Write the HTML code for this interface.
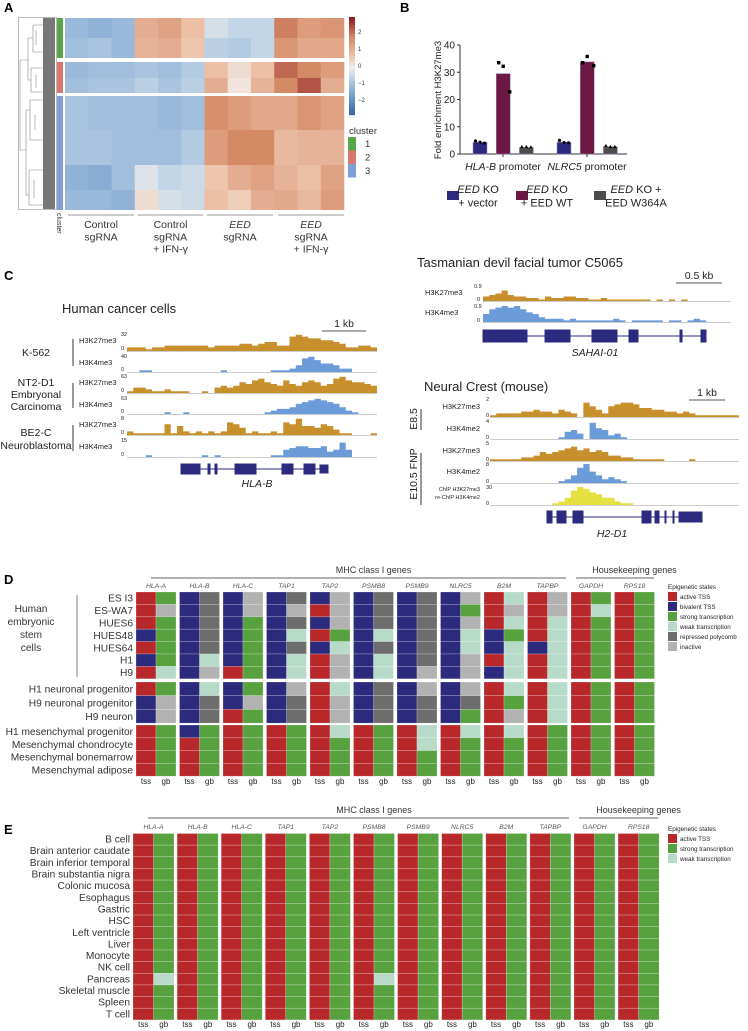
<!DOCTYPE html>
<html><head><meta charset="utf-8"><style>
html,body{margin:0;padding:0;background:#fff}
svg{display:block;font-family:"Liberation Sans",sans-serif}
</style></head><body>
<svg id="fig" width="748" height="1031" viewBox="0 0 748 1031" xmlns="http://www.w3.org/2000/svg">
<g id="gA">
<text x="4" y="12" font-size="13" font-weight="bold">A</text>
<rect x="18.5" y="17.5" width="38" height="192" fill="none" stroke="#aaa" stroke-width="0.8"/>
<text x="349" y="134" font-size="9.5" fill="#333">cluster</text>
<text transform="translate(57,213) rotate(90)" font-size="7" fill="#333">cluster</text>
</g>
<g id="gB">
<text x="400" y="12" font-size="13" font-weight="bold">B</text>
<text transform="translate(441,100) rotate(-90)" text-anchor="middle" font-size="9.5" fill="#222">Fold enrichment H3K27me3</text>
</g>
<g id="gC">
<text x="4" y="280" font-size="13" font-weight="bold">C</text>
<text x="62" y="313" font-size="13" fill="#222">Human cancer cells</text>
<text x="417" y="267" font-size="13" fill="#222">Tasmanian devil facial tumor C5065</text>
<text x="424" y="391" font-size="13" fill="#222">Neural Crest (mouse)</text>
</g>
<g id="gD">
<text x="4" y="584" font-size="13" font-weight="bold">D</text>
</g>
<g id="gE">
<text x="4" y="834" font-size="13" font-weight="bold">E</text>
</g>
</svg>
<script>
// ---------- Panel A data ----------
const bandClusters = [1,1,2,2,3,3,3,3];
const bandY = [[18,38],[38,58],[62,78],[78,93],[96,130],[130,165],[165,190],[190,210]];
const band1 = [-1.0,-1.1,-1.0, 0.9,1.1,0.6, -0.3,-0.5,-0.5, 1.6,1.2,1.3];
const band2 = [-0.9,-0.8,-1.0, 0.8,0.9,0.5, -0.6,-0.7,-0.5, 1.3,1.0,1.0];
const band3 = [-1.0,-0.9,-0.9, -0.8,-0.9,-0.7, 0.6,0.2,0.6, 1.8,1.5,1.2];
const band4 = [-0.9,-0.8,-0.8, -0.6,-0.8,-0.6, 0.9,0.1,0.8, 1.5,2.0,0.9];
const band5 = [-0.8,-0.9,-0.9, -0.9,-1.0,-0.9, 1.4,1.2,1.0, 1.0,1.3,1.1];
const band6 = [-0.8,-0.8,-0.9, -0.9,-0.9,-0.7, 1.2,1.5,1.5, 0.7,0.8,0.8];
const band7 = [-1.1,-1.2,-0.9, -0.2,-0.5,-0.4, 0.5,0.9,1.1, 0.8,0.6,1.1];
const band8 = [-1.0,-1.0,-1.1, 0.2,-0.3,-0.4, 0.6,0.4,0.9, 1.0,0.7,1.2];
const groupLabelsA = [["Control","sgRNA"],["Control","sgRNA","+ IFN-γ"],["EED","sgRNA"],["EED","sgRNA","+ IFN-γ"]];
const colorbarTicks = [2,1,0,-1,-2];
const clusterNames = ["1","2","3"];
// ---------- Panel B data ----------
const promoters = ["HLA-B","NLRC5"];
const conditions = ["EED KO + vector","EED KO + EED WT","EED KO + EED W364A"];
const barHLAB = [4.3,29.5,2.4];
const barNLRC5 = [4.3,33.8,2.7];
const ptsHLAB = [[4.8,4.3,4.0],[33.5,32.2,22.8],[2.6,2.6,2.5]];
const ptsNLRC5 = [[5.0,4.2,4.1],[33.5,35.8,32.4],[3.0,2.6,2.6]];
const yTicksB = [0,10,20,30,40];
// ---------- Panel C data ----------
const k562K27 = [2,2,2,1,2,2,3,3,3,3,3,3,3,2,3,3,3,3,4,4,3,4,5,5,3,3,8,9,8,7,7,6,6,5,4,2,2,3,3,2];
const k562K4 = [0,0,1,1,0,0,0,0,0,0,0,0,0,0,0,1,0,0,0,0,0,0,0,1,1,1,2,4,8,9,7,5,5,4,2,2,0,0,0,0];
const nt2K27 = [1,3,3,2,1,1,2,1,1,1,0,0,1,0,3,4,3,4,6,5,7,8,6,5,4,7,5,4,6,7,6,4,5,8,9,7,6,6,5,4];
const nt2K4 = [0,0,0,0,0,0,1,0,0,1,0,0,0,0,0,0,0,0,0,0,0,0,1,2,3,3,4,6,7,8,9,8,7,6,4,2,1,0,0,0];
const be2cK27 = [2,1,1,1,1,1,6,1,5,2,1,2,1,2,1,2,7,6,4,1,2,1,1,2,1,7,6,9,5,5,4,6,5,3,1,1,0,0,0,1];
const be2cK4 = [0,0,0,1,0,0,0,0,0,0,0,0,1,0,1,0,0,0,0,0,0,0,0,1,1,4,5,6,6,5,5,6,3,4,8,4,0,0,0,0];
const tdK27 = [3,4,5,7,4,3,3,2,2,1,3,2,2,3,3,2,2,1,1,2,1,1,1,1,1,1,1,0,1,0,1,0,1,0,0,0,0,0,0,0];
const tdK4 = [5,8,9,10,9,10,8,6,5,3,2,2,2,1,2,1,1,1,1,1,1,2,1,0,1,1,1,1,1,0,1,1,0,1,2,1,0,0,0,0];
const e85K27 = [1,2,2,2,2,3,3,4,3,3,2,4,3,2,0,8,6,4,2,6,7,8,8,7,5,5,4,4,3,3,2,3,2,1,1,1,1,1,1,1];
const e85K4 = [0,0,0,0,0,0,0,0,0,0,0,1,4,5,3,0,9,6,5,2,3,1,0,0,0,0,0,0,0,0,0,0,0,0,0,0,0,0,0,0];
const e105K27 = [1,1,1,1,1,2,2,3,5,4,5,6,7,8,6,7,5,6,5,3,3,2,2,1,1,1,1,1,0,0,0,0,1,0,0,0,0,0,0,0];
const e105K4 = [0,0,0,0,0,0,0,0,0,0,0,1,2,4,8,10,6,4,2,3,2,1,0,0,0,0,0,0,0,0,0,0,0,0,0,0,0,0,0,0];
const reChIP = [0,0,0,0,0,0,0,0,0,0,1,2,4,8,10,9,7,6,4,4,2,1,1,0,0,0,0,0,0,0,0,0,0,0,0,0,0,0,0,0];
// ---------- Panel D/E data ----------
const genes = ["HLA-A","HLA-B","HLA-C","TAP1","TAP2","PSMB8","PSMB9","NLRC5","B2M","TAPBP","GAPDH","RPS18"];
const stateNames = ["active TSS","bivalent TSS","strong transcription","weak transcription","repressed polycomb","inactive"];
const dRowsESC = ["ES I3","ES-WA7","HUES6","HUES48","HUES64","H1","H9"];
const dRowsNeuro = ["H1 neuronal progenitor","H9 neuronal progenitor","H9 neuron"];
const dRowsMes = ["H1 mesenchymal progenitor","Mesenchymal chondrocyte","Mesenchymal bonemarrow","Mesenchymal adipose"];
const dStatesESC = [
"ASBRBIBRBIBRBRBIAWAIASAS",
"AIBRBIBIAIBRBRBSAIAIAWAS",
"ASBRBSBRBIBRBRBIAWAWASAS",
"BSBRBSBWASBWBRBWBSAWASAS",
"ASBRBSBRBWBRBRBWBWBWASAS",
"BSBWBSBWAIBWBRBIAWAWASAS",
"AWBIASBWAIBWBIBIBWAWASAS"];
const dStatesNeuro = [
"ASBWBSBIAWBRBIBIAWAWASAS",
"BIBRBIBRAIBRBRBRASAWASAS",
"BIBRASBRAIBRBRBSAIAWASAS"];
const dStatesMes = [
"ASBSASASAWASAWAWAWASASAS",
"ASASASASASASAWASASASASAS",
"ASASASASASASASASASASASAS",
"ASASASASASASASASASASASAS"];
const eRows = ["B cell","Brain anterior caudate","Brain inferior temporal","Brain substantia nigra","Colonic mucosa","Esophagus","Gastric","HSC","Left ventricle","Liver","Monocyte","NK cell","Pancreas","Skeletal muscle","Spleen","T cell"];
const eStates = [
"ASASASASASASASASASASASAS","ASASASASASASASASASASASAS","ASASASASASASASASASASASAS","ASASASASASASASASASASASAS",
"ASASASASASASASASASASASAS","ASASASASASASASASASASASAS","ASASASASASASASASASASASAS","ASASASASASASASASASASASAS",
"ASASASASASASASASASASASAS","ASASASASASASASASASASASAS","ASASASASASASASASASASASAS","ASASASASASASASASASASASAS",
"AWASASASASAWASASASASASAS","ASASASASASASASASASASASAS","ASASASASASASASASASASASAS","ASASASASASASASASASASASAS"];

const NS="http://www.w3.org/2000/svg";
function mk(tag, attrs, parent){const e=document.createElementNS(NS,tag);for(const k in attrs)e.setAttribute(k,attrs[k]);parent.appendChild(e);return e;}
function txt(s, attrs, parent){const e=mk('text',attrs,parent);e.textContent=s;return e;}
const gA=document.getElementById('gA'),gB=document.getElementById('gB'),gC=document.getElementById('gC'),gD=document.getElementById('gD'),gE=document.getElementById('gE');

const cmStops=[[-2.5,[47,90,158]],[-1.5,[111,154,203]],[-0.5,[195,214,232]],[0,[240,236,233]],[0.5,[238,197,173]],[1.5,[213,138,102]],[2.5,[142,29,36]]];
function cmap(v){v=Math.max(-2.5,Math.min(2.5,v));for(let i=0;i<cmStops.length-1;i++){const a=cmStops[i],b=cmStops[i+1];if(v<=b[0]){const t=(v-a[0])/(b[0]-a[0]);const c=a[1].map((x,j)=>Math.round(x+(b[1][j]-x)*t));return `rgb(${c})`;}}return 'rgb(142,29,36)';}

// ---- Panel A ----
const bands=[band1,band2,band3,band4,band5,band6,band7,band8];
const hmX0=65,hmX1=344,colW=(hmX1-hmX0)/12;
const clColors=["#5aa64a","#d9776e","#7f9fd6"];
bands.forEach((vals,bi)=>{
  vals.forEach((v,ci)=>{
    const r=mk('rect',{x:hmX0+ci*colW,y:bandY[bi][0],width:colW+0.3,height:bandY[bi][1]-bandY[bi][0],fill:cmap(v)},gA);
    
    
  });
  const cb=mk('rect',{x:57,y:bandY[bi][0],width:6,height:bandY[bi][1]-bandY[bi][0],fill:clColors[bandClusters[bi]-1]},gA);
  
  
});
const dg=mk('g',{stroke:'#888','stroke-width':0.6,fill:'none'},gA);


mk('rect',{x:43,y:18,width:12,height:191,fill:'#777',stroke:'none'},dg);
mk('path',{d:'M20 60 V150 M20 60 H28 M20 150 H26 M28 38 V80 M28 38 H33 M28 80 H31 M33 25 V52 M31 68 V92 M26 110 V195 M26 110 H30 M26 195 H29 M30 100 V140 M29 170 V205 M33 25 H43 M33 52 H43 M31 68 H43 M31 92 H43 M30 100 H43 M30 140 H43 M29 170 H43 M29 205 H43 M36 30 V45 M36 75 V88 M35 115 V130 M34 180 V198'},dg);
for(let i=0;i<40;i++){const v=2.5-i*5/40;const r=mk('rect',{x:349,y:17+i*2.45,width:6,height:2.6,fill:cmap(v)},gA);}
colorbarTicks.forEach(t=>{const y=66-t*17;const l=txt(String(t).replace('-','−'),{x:358,y:y+2,'font-size':6,fill:'#333'},gA);});
clusterNames.forEach((c,i)=>{const r=mk('rect',{x:348,y:137+i*13.5,width:8,height:13.5,fill:clColors[i]},gA);
const t=txt(c,{x:365,y:147+i*13.5,'font-size':9.5,fill:'#333'},gA);});
const grpX=[[68,134],[138,203],[207,273],[278,344]];
groupLabelsA.forEach((lines,gi)=>{
  const ln=mk('line',{x1:grpX[gi][0],x2:grpX[gi][1],y1:215,y2:215,stroke:'#999','stroke-width':1},gA);
  
  lines.forEach((s,li)=>{const t=txt(s,{x:(grpX[gi][0]+grpX[gi][1])/2,y:228+li*12.3,'font-size':10.5,'text-anchor':'middle',fill:'#333','font-style':(s==='EED'?'italic':'normal')},gA);});
});

// ---- Panel B ----
const bx0=460,by0=154,bScale=(154-45)/40;
const yB=v=>by0-v*bScale;
mk('line',{x1:bx0,x2:bx0,y1:45,y2:by0,stroke:'#333','stroke-width':1},gB);
mk('line',{x1:bx0,x2:627,y1:by0,y2:by0,stroke:'#333','stroke-width':1},gB);
yTicksB.forEach(t=>{mk('line',{x1:bx0-3,x2:bx0,y1:yB(t),y2:yB(t),stroke:'#333'},gB);const l=txt(String(t),{x:bx0-5,y:yB(t)+3.5,'font-size':10,'text-anchor':'end',fill:'#222'},gB);});
const barCols=["#2b2a7f","#6b1842","#4d4d4d"];
const groupStart=[473,557];
[barHLAB,barNLRC5].forEach((vals,gi)=>{
  vals.forEach((v,ci)=>{
    const x=groupStart[gi]+ci*23.2;
    const r=mk('rect',{x:x,y:yB(v),width:14,height:by0-yB(v),fill:barCols[ci],stroke:'#9a8fc0','stroke-width':0.5},gB);
    
    
    const pts=[ptsHLAB,ptsNLRC5][gi][ci];
    pts.forEach((p,pi)=>{
      const px=x+2.5+pi*4.5;
      let m;
      if(ci===0)m=mk('circle',{cx:px,cy:yB(p),r:1.6,fill:'#000'},gB);
      else if(ci===1)m=mk('rect',{x:px-1.7+(pi===2?2:0),y:yB(p)-1.7,width:3.4,height:3.4,fill:'#000'},gB);
      else m=mk('path',{d:`M${px} ${yB(p)-2} l1.8 3.2 h-3.6z`,fill:'#000'},gB);
      
      
    });
  });
  mk('line',{x1:groupStart[gi]+30,x2:groupStart[gi]+30,y1:by0,y2:by0+3,stroke:'#333'},gB);
  const t=mk('text',{x:groupStart[gi]+30,y:170,'font-size':10.5,'text-anchor':'middle',fill:'#222'},gB);
  t.innerHTML=`<tspan font-style="italic">${promoters[gi]}</tspan> promoter`;
  
});
const legX=[447,516,594];
const legL=[["<tspan font-style='italic'>EED</tspan> KO","+ vector"],["<tspan font-style='italic'>EED</tspan> KO","+ EED WT"],["<tspan font-style='italic'>EED</tspan> KO +","EED W364A"]];
conditions.forEach((c,i)=>{
  const r=mk('rect',{x:legX[i],y:191,width:12,height:9,fill:barCols[i]},gB);
  legL[i].forEach((s,li)=>{const t=mk('text',{x:legX[i]+(i===2?42:31),y:193+li*13.5,'font-size':11,'text-anchor':'middle',fill:'#222'},gB);t.innerHTML=s;});
});

// ---- Panel C ----
function track(vals,x0,x1,yTop,yBase,color,name){
  const w=(x1-x0)/vals.length;const vmax=10;
  let d=`M${x0} ${yBase}`;
  vals.forEach((v,i)=>{const y=yBase-(v/vmax)*(yBase-yTop);d+=` L${x0+i*w} ${y} L${x0+(i+1)*w} ${y}`;});
  d+=` L${x1} ${yBase} Z`;
  const p=mk('path',{d:d,fill:color},gC);
  
  
  mk('line',{x1:x0,x2:x1,y1:yBase+0.5,y2:yBase+0.5,stroke:'#ccc','stroke-width':1},gC);
}
const ORG="#c8902c",BLU="#6b9bd8",YEL="#e3e040";
function lbl(s,x,y,fs,anchor,name){const t=txt(s,{x:x,y:y,'font-size':fs,fill:'#222','text-anchor':anchor||'start'},gC);return t;}
const hcT=[[k562K27,333,351,ORG,'H3K27me3','32'],[k562K4,355,372,BLU,'H3K4me3','40'],[nt2K27,375,393,ORG,'H3K27me3','63'],[nt2K4,397,414,BLU,'H3K4me3','63'],[be2cK27,417,435,ORG,'H3K27me3','8'],[be2cK4,439,457,BLU,'H3K4me3','15']];
hcT.forEach(t=>{track(t[0],127,377,t[1],t[2],t[3],'signal-track');lbl(t[4],79,t[1]+10,7.5);lbl(t[5],121,t[1]+3,5.5);lbl('0',121,t[2]-1,5.5);});
mk('line',{x1:322,x2:366,y1:331,y2:331,stroke:'#555','stroke-width':1},gC);lbl('1 kb',344,327,10.5,'middle','scale-bar-label');
lbl('K-562',36,356,10.5,'middle','cell-line-label');
lbl('NT2-D1',36,386,10.5,'middle','cell-line-label');lbl('Embryonal',36,398,10.5,'middle','cell-line-label');lbl('Carcinoma',36,410,10.5,'middle','cell-line-label');
lbl('BE2-C',36,436,10.5,'middle','cell-line-label');lbl('Neuroblastoma',36,449,10.5,'middle','cell-line-label');
[[331,372],[375,414],[417,457]].forEach(s=>mk('line',{x1:73,x2:73,y1:s[0]+8,y2:s[1]-6,stroke:'#333'},gC));
const gm=mk('g',{fill:'#2b2a7f',stroke:'#2b2a7f'},gC);
mk('line',{x1:181,x2:328,y1:469,y2:469,'stroke-width':1},gm);
[[181,200,5],[208,210,5],[215,217,5],[235,256,5],[282,293,5],[304,315,5],[320,328,4]].forEach(e=>mk('rect',{x:e[0],y:469-e[2],width:e[1]-e[0],height:e[2]*2},gm));
const hl=lbl('HLA-B',257,487,10.5,'middle','gene-name');hl.setAttribute('font-style','italic');
const tdT=[[tdK27,286,301,ORG,'H3K27me3'],[tdK4,306,322,BLU,'H3K4me3']];
tdT.forEach(t=>{track(t[0],483,731,t[1],t[2],t[3],'signal-track');lbl(t[4],425,t[1]+9,7.5);lbl('0.9',474,t[1]+2,5.5);lbl('0',477,t[2],5.5);});
mk('line',{x1:676,x2:722,y1:283,y2:283,stroke:'#555'},gC);lbl('0.5 kb',699,279,10.5,'middle','scale-bar-label');
const gm2=mk('g',{fill:'#2b2a7f',stroke:'#2b2a7f'},gC);
mk('line',{x1:483,x2:706,y1:336,y2:336},gm2);
[[483,527],[545,570],[592,617],[629,638],[680,682],[701,706]].forEach(e=>mk('rect',{x:e[0],y:330,width:e[1]-e[0],height:12},gm2));
const sl=lbl('SAHAI-01',595,356,10.5,'middle','gene-name');sl.setAttribute('font-style','italic');
const ncT=[[e85K27,399,417,ORG,'H3K27me3','2'],[e85K4,421,439,BLU,'H3K4me2','4'],[e105K27,443,461,ORG,'H3K27me3','5'],[e105K4,464,483,BLU,'H3K4me2','8'],[reChIP,487,505,YEL,'','30']];
ncT.forEach(t=>{track(t[0],490,739,t[1],t[2],t[3],'signal-track');if(t[4])lbl(t[4],480,t[1]+10,7.5,'end');lbl(t[5],486,t[1]+2,5.5);lbl('0',486,t[2],5.5);});
lbl('ChIP H3K27me3',480,491,5.5,'end');lbl('re-ChIP H3K4me2',480,499,5.5,'end');
mk('line',{x1:689,x2:725,y1:400,y2:400,stroke:'#555'},gC);lbl('1 kb',707,396,10.5,'middle','scale-bar-label');
mk('line',{x1:421,x2:421,y1:409,y2:430,stroke:'#333'},gC);mk('line',{x1:421,x2:421,y1:453,y2:505,stroke:'#333'},gC);
const e85=lbl('E8.5',0,0,10.5,'middle','stage-label');e85.setAttribute('transform','translate(417,419) rotate(-90)');
const e105=lbl('E10.5 FNP',0,0,10.5,'middle','stage-label');e105.setAttribute('transform','translate(417,474) rotate(-90)');
const gm3=mk('g',{fill:'#2b2a7f',stroke:'#2b2a7f'},gC);
mk('line',{x1:547,x2:702,y1:517,y2:517},gm3);
[[547,552],[557,566],[573,583],[642,651],[655,659],[665,666],[673,674],[679,702]].forEach(e=>mk('rect',{x:e[0],y:(e[0]===679?512:511),width:e[1]-e[0],height:(e[0]===679?10:12)},gm3));
const h2=lbl('H2-D1',612,537,10.5,'middle','gene-name');h2.setAttribute('font-style','italic');

// ---- Panels D/E ----
const stateCol={A:'#b8282b',B:'#2c2a7c',S:'#58a13f',W:'#b7dac9',R:'#6d6d6d',I:'#b2b2b2'};
function grid(g,rows,states,y0,rowH,x0,pitch,cw){
  rows.forEach((rn,ri)=>{
    const t=txt(rn,{x:x0-3,y:y0+ri*rowH+rowH*0.78,'font-size':10.2,'text-anchor':'end',fill:'#333'},g);
    
    for(let gi=0;gi<genes.length;gi++){
      for(let k=0;k<2;k++){
        const s=states[ri][gi*2+k];
        const c=mk('rect',{x:x0+gi*pitch+k*cw,y:y0+ri*rowH,width:cw,height:rowH,fill:stateCol[s],stroke:'rgba(255,255,255,0.35)','stroke-width':0.6},g);
        
        
      }
    }
  });
}
function header(g,x0,pitch,cw,yTitle,yLine,yGene,yTss){
  const t1=txt('MHC class I genes',{x:x0+5*pitch+cw,y:yTitle,'font-size':9,'text-anchor':'middle',fill:'#333'},g);
  mk('line',{x1:x0+15,x2:x0+10*pitch-5,y1:yLine,y2:yLine,stroke:'#666'},g);
  const t2=txt('Housekeeping genes',{x:x0+11*pitch+cw,y:yTitle,'font-size':9,'text-anchor':'middle',fill:'#333'},g);
  mk('line',{x1:x0+10*pitch+5,x2:x0+12*pitch-4,y1:yLine,y2:yLine,stroke:'#666'},g);
  genes.forEach((gn,i)=>{
    const t=txt(gn,{x:x0+i*pitch+cw,y:yGene,'font-size':6.8,'text-anchor':'middle',fill:'#555','font-style':'italic'},g);
    ['tss','gb'].forEach((s,k)=>{const u=txt(s,{x:x0+i*pitch+k*cw+cw/2,y:yTss,'font-size':8,'text-anchor':'middle',fill:'#222'},g);});
  });
}
function legend(g,x,y,idx){
  const t=txt('Epigenetic states',{x:x,y:y,'font-size':6.3,fill:'#222'},g);
  idx.forEach((si,i)=>{
    const r=mk('rect',{x:x,y:y+3+i*10,width:9,height:9,fill:stateCol['ABSWRI'[si]]},g);
    const l=txt(stateNames[si],{x:x+12,y:y+10+i*10,'font-size':6.3,fill:'#222'},g);
  });
}
const dx0=136,dp=43.5,dcw=20;
header(gD,dx0,dp,dcw,573,578,588,784);
grid(gD,dRowsESC,dStatesESC,592,12.4,dx0,dp,dcw);
grid(gD,dRowsNeuro,dStatesNeuro,682,13.7,dx0,dp,dcw);
grid(gD,dRowsMes,dStatesMes,725,12.8,dx0,dp,dcw);
[['Human',612],['embryonic',625],['stem',638],['cells',651]].forEach(a=>{const t=txt(a[0],{x:31,y:a[1],'font-size':10.2,'text-anchor':'middle',fill:'#333'},gD);});
mk('line',{x1:77,x2:77,y1:595,y2:677,stroke:'#aaa','stroke-width':1.5},gD);
legend(gD,668,589,[0,1,2,3,4,5]);
const ex0=133,ep=44.1,ecw=20.5;
header(gE,ex0,ep,ecw,813,818,829,1027);
grid(gE,eRows,eStates,833.5,11.65,ex0,ep,ecw);
legend(gE,668,831,[0,2,3]);
</script>
</body></html>
